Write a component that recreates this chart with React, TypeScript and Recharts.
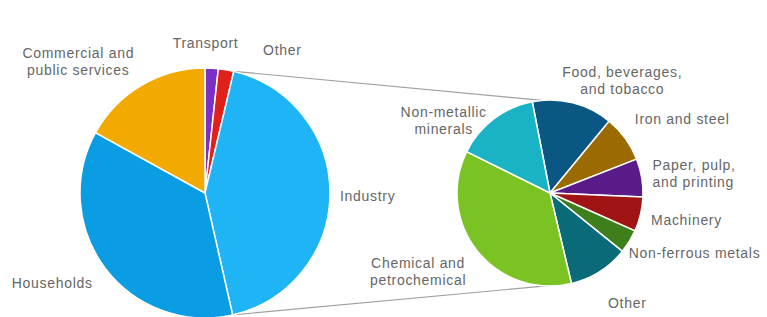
import React from "react";
import { PieChart, Pie, Cell, Customized } from "recharts";

const mainNames = ["Transport", "Other", "Industry", "Households", "Commercial and\npublic services"];
const mainValues = [1.7, 2.0, 42.8, 36.6, 17.0];
const mainColors = ["#7a2fc7", "#e0201b", "#1fb4f5", "#0a9de3", "#f2a900"];

const subNames = [
  "Food, beverages,\nand tobacco",
  "Iron and steel",
  "Paper, pulp,\nand printing",
  "Machinery",
  "Non-ferrous metals",
  "Other",
  "Chemical and\npetrochemical",
  "Non-metallic\nminerals",
];
const subValues = [14.0, 8.1, 6.6, 6.0, 4.1, 10.5, 36.0, 14.6];
const subColors = ["#0b5783", "#9b6a00", "#5a1a88", "#a01414", "#3f7f1b", "#0a6b78", "#7bc323", "#1ab3c6"];

const mainData = mainNames.map((name, i) => ({ name, value: mainValues[i] }));
const subData = subNames.map((name, i) => ({ name, value: subValues[i] }));

// label layout: [dx, dy, anchor]
const mainLabelLayout: Record<number, [number, number, string]> = {
  0: [-7, -7, "middle"],
  1: [34, -2, "start"],
  2: [-8, 2, "start"],
  3: [2, 4, "end"],
  4: [-54, -8, "middle"],
};
const subLabelLayout: Record<number, [number, number, string]> = {
  0: [45, -5, "middle"],
  1: [-5, -9, "start"],
  2: [-7, -1, "start"],
  3: [-7, 2, "start"],
  4: [-16, 2, "start"],
  5: [18, 16, "middle"],
  6: [-45, 9, "middle"],
  7: [-39, 16, "middle"],
};

const RAD = Math.PI / 180;
const MAIN = { cx: 205, cy: 193, r: 125 };
const SUB = { cx: 550, cy: 193, r: 93, start: 101 };
const LINE_H = 17;

const makeLabel = (layout: Record<number, [number, number, string]>) => (props: any) => {
  const { cx, cy, midAngle, outerRadius, index, name } = props;
  const R = outerRadius + 18;
  const px = cx + R * Math.cos(-midAngle * RAD);
  const py = cy + R * Math.sin(-midAngle * RAD);
  const [dx, dy, anchor] = layout[index];
  const x = px + dx;
  const y = py + dy;
  const lines = String(name).split("\n");
  const y0 = y - ((lines.length - 1) * LINE_H) / 2;
  return (
    <text
      key={`lbl-${index}`}
      x={x}
      y={y0}
      textAnchor={anchor as any}
      dominantBaseline="central"
      fill="#666666"
      fontSize={14}
      letterSpacing={0.7}
      fontFamily="'Liberation Sans', Arial, sans-serif"
    >
      {lines.map((l, i) => (
        <tspan key={i} x={x} dy={i === 0 ? 0 : LINE_H}>
          {l}
        </tspan>
      ))}
    </text>
  );
};

const Connectors = () => {
  const total = mainValues.reduce((a, b) => a + b, 0);
  const before = mainValues[0] + mainValues[1];
  const a1 = 90 - (before / total) * 360;
  const a2 = 90 - ((before + mainValues[2]) / total) * 360;
  const p = (c: { cx: number; cy: number }, r: number, a: number) => [
    c.cx + r * Math.cos(-a * RAD),
    c.cy + r * Math.sin(-a * RAD),
  ];
  const [x1, y1] = p(MAIN, MAIN.r, a1);
  const [x2, y2] = p(MAIN, MAIN.r, a2);
  const [x3, y3] = p(SUB, SUB.r, 95);
  const [x4, y4] = p(SUB, SUB.r, -77);
  return (
    <g>
      <line x1={x1} y1={y1} x2={x3} y2={y3} stroke="#a0a0a0" strokeWidth={1.2} />
      <line x1={x2} y1={y2} x2={x4} y2={y4} stroke="#a0a0a0" strokeWidth={1.2} />
    </g>
  );
};

export default function App() {
  return (
    <div style={{ width: 767, height: 317, background: "#ffffff" }}>
      <style>{`body{margin:0}`}</style>
      <PieChart width={767} height={317} margin={{ top: 0, right: 0, bottom: 0, left: 0 }}>
        <Customized component={Connectors} />
        <Pie
          data={mainData}
          dataKey="value"
          nameKey="name"
          cx={MAIN.cx}
          cy={MAIN.cy}
          outerRadius={MAIN.r}
          startAngle={90}
          endAngle={-270}
          stroke="#ffffff"
          strokeWidth={1.5}
          isAnimationActive={false}
          labelLine={false}
          label={makeLabel(mainLabelLayout)}
        >
          {mainData.map((d, i) => (
            <Cell key={d.name} fill={mainColors[i]} />
          ))}
        </Pie>
        <Pie
          data={subData}
          dataKey="value"
          nameKey="name"
          cx={SUB.cx}
          cy={SUB.cy}
          outerRadius={SUB.r}
          startAngle={SUB.start}
          endAngle={SUB.start - 360}
          stroke="#ffffff"
          strokeWidth={1.5}
          isAnimationActive={false}
          labelLine={false}
          label={makeLabel(subLabelLayout)}
        >
          {subData.map((d, i) => (
            <Cell key={d.name} fill={subColors[i]} />
          ))}
        </Pie>
      </PieChart>
    </div>
  );
}
